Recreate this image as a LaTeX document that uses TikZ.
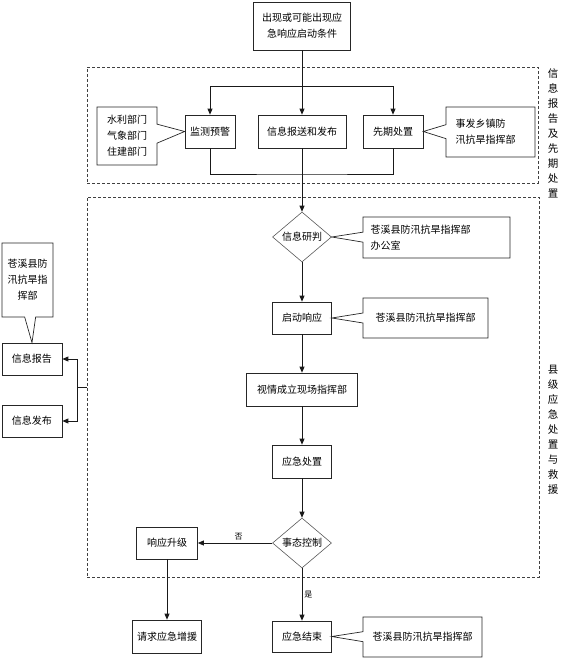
\documentclass[tikz,border=0pt]{standalone}
\usepackage{fontspec}
\newfontfamily\cjk{Noto Sans CJK SC}
\usetikzlibrary{arrows.meta,shapes.geometric,shapes.callouts}
\tikzset{
  box/.style={draw=black!85, line width=0.7pt, inner sep=1pt, align=center},
  decide/.style={diamond, draw=black!65, line width=0.6pt, inner sep=0pt, minimum width=59pt, minimum height=50pt},
  note/.style={rectangle callout, draw=black!85, line width=0.7pt, inner sep=2pt, align=left},
  frame/.style={draw=black!75, line width=0.7pt, dash pattern=on 3pt off 2pt},
  flow/.style={draw=black!90, line width=0.8pt},
  arr/.style={flow, -{Triangle[length=6pt,width=5pt]}},
  vlabel/.style={align=center, font=\cjk\fontsize{10.5}{15}\selectfont, inner sep=0pt},
  tag/.style={font=\cjk\fontsize{8}{10}\selectfont, inner sep=2pt}
}
\begin{document}
\begin{tikzpicture}[x=1pt,y=-1pt, every node/.style={font=\cjk\fontsize{10}{16}\selectfont}]
  \useasboundingbox (0,0) rectangle (561,660);
  % dashed groups
  \node[frame, minimum width=451pt, minimum height=116pt] (grpA) at (312.5,125) {};
  \node[frame, minimum width=452pt, minimum height=380pt] (grpB) at (313,387) {};
  \node[vlabel] at (553,133) {信\\息\\报\\告\\及\\先\\期\\处\\置};
  \node[vlabel] at (553,430) {县\\级\\应\\急\\处\\置\\与\\救\\援};
  % boxes
  \node[box, minimum width=97pt, minimum height=48pt] (start) at (302,26) {出现或可能出现应\\急响应启动条件};
  \node[box, minimum width=50pt, minimum height=33pt] (watch) at (210,131.5) {监测预警};
  \node[box, minimum width=88pt, minimum height=33pt] (report) at (302,131.5) {信息报送和发布};
  \node[box, minimum width=60pt, minimum height=33pt] (early) at (393,131.5) {先期处置};
  \node[decide] (judge) at (302,237) {信息研判};
  \node[box, minimum width=59pt, minimum height=32pt] (launch) at (302,318) {启动响应};
  \node[box, minimum width=111pt, minimum height=33pt] (field) at (302,389.5) {视情成立现场指挥部};
  \node[box, minimum width=59pt, minimum height=33pt] (handle) at (302,461.5) {应急处置};
  \node[decide] (control) at (302,543) {事态控制};
  \node[box, minimum width=61pt, minimum height=32pt] (upgrade) at (167,543) {响应升级};
  \node[box, minimum width=69pt, minimum height=33pt] (support) at (167,636.5) {请求应急增援};
  \node[box, minimum width=59pt, minimum height=31pt] (finish) at (302,636.5) {应急结束};
  \node[box, minimum width=60pt, minimum height=32pt] (infoRep) at (32,359) {信息报告};
  \node[box, minimum width=60pt, minimum height=32pt] (infoPub) at (32,421) {信息发布};
  % callouts
  \node[note, align=center, minimum width=60pt, minimum height=58pt, callout absolute pointer={(watch.west)}, callout pointer width=19pt] (deptNote) at (127,136) {水利部门\\气象部门\\住建部门};
  \node[note, text width=70pt, minimum width=89pt, minimum height=50pt, callout absolute pointer={(early.east)}, callout pointer width=14pt] (townNote) at (490.5,132) {事发乡镇防\\汛抗旱指挥部};
  \node[note, text width=132pt, minimum width=147pt, minimum height=41pt, callout absolute pointer={(judge.east)}, callout pointer width=10pt] (officeNote) at (436.5,237.5) {苍溪县防汛抗旱指挥部\\办公室};
  \node[note, minimum width=125pt, minimum height=40pt, callout absolute pointer={(launch.east)}, callout pointer width=10pt] (hqNoteA) at (425.5,318) {苍溪县防汛抗旱指挥部};
  \node[note, minimum width=119pt, minimum height=40pt, callout absolute pointer={(finish.east)}, callout pointer width=10pt] (hqNoteB) at (422.5,637) {苍溪县防汛抗旱指挥部};
  \node[note, align=center, minimum width=51pt, minimum height=74pt, callout absolute pointer={(infoRep.north)}, callout pointer width=11pt] (hqNoteC) at (27.5,280) {苍溪县防\\汛抗旱指\\挥部};
  % connectors
  \coordinate (split) at (302,86);
  \coordinate (merge) at (302,174);
  \coordinate (fork) at (77,387);
  \draw[flow] (start.south) -- (split);
  \draw[arr] (split) -| (watch.north);
  \draw[arr] (split) -| (early.north);
  \draw[arr] (split) -- (report.north);
  \draw[flow] (watch.south) |- (merge) -| (early.south);
  \draw[arr] (report.south) -- (judge.north);
  \draw[arr] (judge) -- (launch);
  \draw[arr] (launch) -- (field);
  \draw[arr] (field) -- (handle);
  \draw[arr] (handle) -- (control);
  \draw[arr] (control) -- node[tag, above, pos=0.45] {否} (upgrade);
  \draw[arr] (control) -- node[tag, right, pos=0.5] {是} (finish);
  \draw[arr] (upgrade) -- (support);
  \draw[flow] (grpB.west) -- (fork);
  \draw[arr] (fork) |- (infoRep.east);
  \draw[arr] (fork) |- (infoPub.east);
\end{tikzpicture}
\end{document}
